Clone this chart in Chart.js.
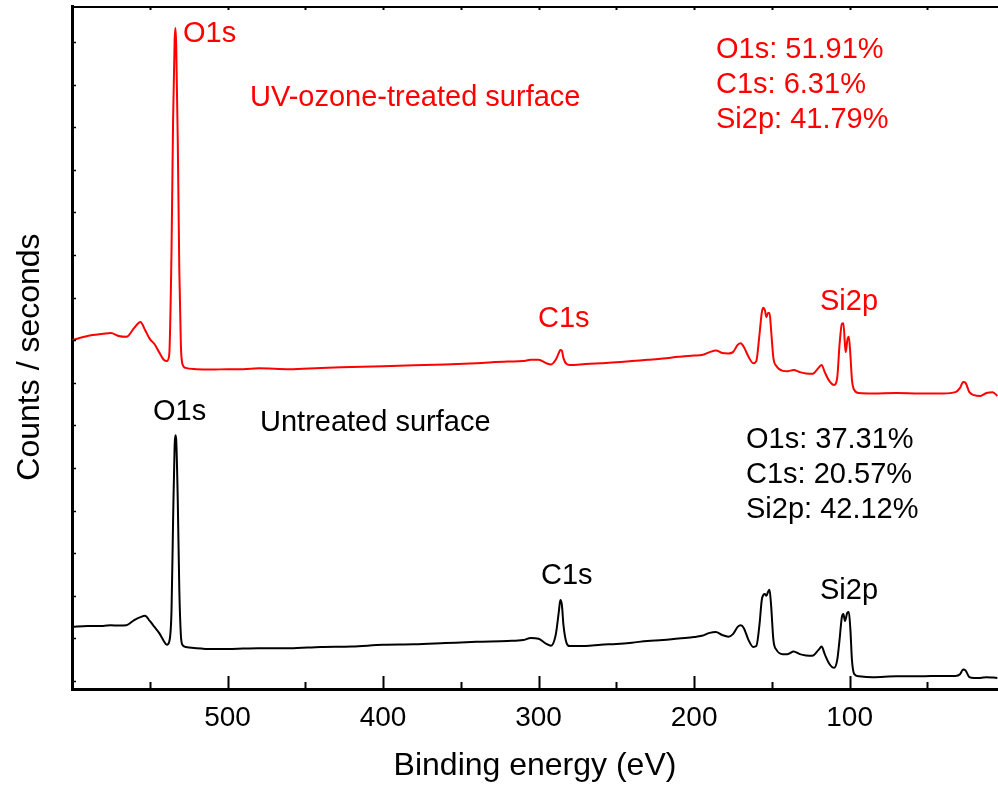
<!DOCTYPE html>
<html>
<head>
<meta charset="utf-8">
<title>XPS survey spectra</title>
<script src="https://cdn.jsdelivr.net/npm/chart.js@4.4.1/dist/chart.umd.min.js"></script>
<style>
  html, body { margin: 0; padding: 0; background: #fff; }
  canvas { display: block; }
</style>
</head>
<body>
<canvas id="xps" width="998" height="787"></canvas>
<script>
// Binding energy grid (eV), shared by both spectra, from high to low energy
const bindingEnergy = [
  600, 590, 580, 575, 570, 565, 560, 556, 553, 550,
  547, 544, 541, 539, 537.5, 536, 535, 534, 533.5, 533,
  532, 531, 530, 529, 527, 520, 510, 500, 490, 480,
  460, 440, 420, 400, 380, 360, 340, 320, 310, 305,
  300, 295, 292, 289, 287, 286, 285, 284, 282, 280,
  270, 260, 250, 240, 230, 220, 210, 200, 195, 190,
  186, 182, 178, 175, 172, 170, 168, 165, 162, 160,
  158, 156.5, 155.5, 154.5, 153.5, 152.5, 151.5, 150.5, 149, 147,
  143, 140, 136, 132, 128, 124, 120, 118, 116, 113,
  110, 108, 106.5, 105, 104, 103, 102.5, 101.5, 100.5, 99.5,
  98.5, 97, 94, 85, 70, 55, 40, 32, 29, 27,
  25.5, 23, 20, 16, 12, 8, 5
];

// Untreated surface (arbitrary count units)
const untreatedCounts = [
  1.27, 1.29, 1.29, 1.31, 1.30, 1.31, 1.43, 1.50, 1.53, 1.41,
  1.27, 1.13, 0.94, 0.85, 0.92, 1.67, 3.78, 5.54, 5.77, 5.66,
  4.25, 2.14, 1.08, 0.85, 0.80, 0.77, 0.75, 0.75, 0.76, 0.77,
  0.77, 0.80, 0.81, 0.85, 0.86, 0.89, 0.92, 0.94, 0.96, 1.01,
  0.99, 0.87, 0.83, 1.08, 1.62, 1.90, 1.78, 1.31, 0.89, 0.82,
  0.82, 0.85, 0.87, 0.90, 0.94, 0.96, 1.00, 1.03, 1.06, 1.13,
  1.15, 1.08, 1.04, 1.10, 1.27, 1.31, 1.24, 0.96, 0.80, 0.82,
  1.31, 1.90, 2.02, 2.04, 2.00, 2.09, 2.14, 1.78, 0.96, 0.73,
  0.63, 0.63, 0.69, 0.63, 0.60, 0.59, 0.73, 0.81, 0.63, 0.40,
  0.31, 0.49, 0.96, 1.50, 1.57, 1.41, 1.46, 1.60, 1.62, 1.20,
  0.49, 0.16, 0.11, 0.09, 0.11, 0.11, 0.12, 0.12, 0.16, 0.27,
  0.25, 0.09, 0.07, 0.07, 0.09, 0.08, 0.07
];

// UV-ozone-treated surface (same units, stacked above the untreated trace)
const uvOzoneCounts = [
  8.00, 8.10, 8.15, 8.17, 8.10, 8.08, 8.29, 8.43, 8.24, 8.03,
  7.91, 7.72, 7.54, 7.51, 7.65, 10.12, 13.17, 15.05, 15.33, 14.93,
  12.70, 9.65, 7.89, 7.44, 7.35, 7.32, 7.31, 7.32, 7.32, 7.34,
  7.32, 7.35, 7.37, 7.39, 7.41, 7.43, 7.46, 7.50, 7.51, 7.54,
  7.54, 7.46, 7.43, 7.54, 7.70, 7.77, 7.75, 7.58, 7.44, 7.42,
  7.44, 7.46, 7.48, 7.51, 7.54, 7.57, 7.61, 7.64, 7.65, 7.72,
  7.76, 7.70, 7.69, 7.72, 7.89, 7.93, 7.84, 7.61, 7.46, 7.51,
  8.12, 8.64, 8.76, 8.71, 8.54, 8.64, 8.64, 8.24, 7.58, 7.39,
  7.28, 7.27, 7.30, 7.25, 7.22, 7.21, 7.35, 7.42, 7.25, 7.04,
  6.95, 7.11, 7.89, 8.38, 8.40, 7.89, 7.72, 8.00, 8.08, 7.65,
  7.07, 6.83, 6.76, 6.75, 6.76, 6.75, 6.75, 6.78, 6.88, 7.02,
  7.00, 6.78, 6.71, 6.69, 6.76, 6.78, 6.69
];

// Axis ticks
const energyTicks = [500, 400, 300, 200, 100];
const minorEnergyTicks = [550, 450, 350, 250, 150, 50];
const countTicks = [0, 1, 2, 3, 4, 5, 6, 7, 8, 9, 10, 11, 12, 13, 14, 15];

// Surface composition (at.%)
const elements = ['O1s', 'C1s', 'Si2p'];
const treatedComposition = [51.91, 6.31, 41.79];
const untreatedComposition = [37.31, 20.57, 42.12];

const FONT = "'Liberation Sans', Arial, Helvetica, sans-serif";
const RED = '#ff0000';
const BLACK = '#000000';

// Text annotations: peak names, sample names and composition blocks
const annotations = [
  { text: 'O1s', x: 183, y: 42, color: RED },
  { text: 'UV-ozone-treated surface', x: 250, y: 106, color: RED },
  { text: 'C1s', x: 538, y: 327, color: RED },
  { text: 'Si2p', x: 820, y: 310, color: RED },
  { text: 'O1s', x: 153, y: 420, color: BLACK },
  { text: 'Untreated surface', x: 260, y: 431, color: BLACK },
  { text: 'C1s', x: 541, y: 584, color: BLACK },
  { text: 'Si2p', x: 820, y: 599, color: BLACK }
];
const compositionBlocks = [
  { values: treatedComposition, x: 716, y: 58, color: RED },
  { values: untreatedComposition, x: 746, y: 448, color: BLACK }
];

const toPoints = (ys) => bindingEnergy.map((e, i) => ({ x: e, y: ys[i] }));

const frameAndLabels = {
  id: 'frameAndLabels',
  afterDatasetsDraw(chart) {
    const { ctx, chartArea: a, scales: { x, y } } = chart;
    ctx.save();
    ctx.strokeStyle = BLACK;

    // top frame line
    ctx.lineWidth = 2;
    ctx.beginPath();
    ctx.moveTo(a.left, a.top + 1);
    ctx.lineTo(a.right, a.top + 1);
    ctx.stroke();

    // inward ticks on the energy axis (bottom) and small ones on top
    const tick = (v, len, w) => {
      const px = Math.round(x.getPixelForValue(v)) + 0.5;
      ctx.lineWidth = w;
      ctx.beginPath();
      ctx.moveTo(px, a.bottom);
      ctx.lineTo(px, a.bottom - len);
      ctx.moveTo(px, a.top);
      ctx.lineTo(px, a.top + 4);
      ctx.stroke();
    };
    energyTicks.forEach(v => tick(v, 13, 2));
    minorEnergyTicks.forEach(v => tick(v, 7, 2));

    // small inward ticks on the counts axis
    ctx.lineWidth = 1.5;
    countTicks.forEach(v => {
      const py = Math.round(y.getPixelForValue(v)) + 0.5;
      ctx.beginPath();
      ctx.moveTo(a.left, py);
      ctx.lineTo(a.left + 4, py);
      ctx.stroke();
    });

    // text
    ctx.font = `29px ${FONT}`;
    ctx.textAlign = 'left';
    ctx.textBaseline = 'alphabetic';
    annotations.forEach(t => {
      ctx.fillStyle = t.color;
      ctx.fillText(t.text, t.x, t.y);
    });
    compositionBlocks.forEach(b => {
      ctx.fillStyle = b.color;
      elements.forEach((el, i) => {
        ctx.fillText(`${el}: ${b.values[i].toFixed(2)}%`, b.x, b.y + i * 35);
      });
    });

    // vertical axis title
    ctx.fillStyle = BLACK;
    ctx.font = `32px ${FONT}`;
    ctx.textAlign = 'center';
    ctx.textBaseline = 'middle';
    ctx.translate(30, 357);
    ctx.rotate(-Math.PI / 2);
    ctx.fillText('Counts / seconds', 0, 0);
    ctx.restore();
  }
};

new Chart(document.getElementById('xps'), {
  type: 'line',
  data: {
    datasets: [
      {
        label: 'UV-ozone-treated surface',
        data: toPoints(uvOzoneCounts),
        borderColor: RED,
        borderWidth: 2
      },
      {
        label: 'Untreated surface',
        data: toPoints(untreatedCounts),
        borderColor: BLACK,
        borderWidth: 2
      }
    ]
  },
  options: {
    responsive: false,
    animation: false,
    devicePixelRatio: 1,
    parsing: false,
    layout: { padding: { top: 6, left: 0, right: 0, bottom: 0 } },
    elements: {
      point: { radius: 0 },
      line: { cubicInterpolationMode: 'monotone', fill: false }
    },
    plugins: {
      legend: { display: false },
      tooltip: { enabled: false }
    },
    scales: {
      x: {
        type: 'linear',
        reverse: true,
        min: 4.6,
        max: 600,
        afterBuildTicks: s => { s.ticks = energyTicks.map(v => ({ value: v })); },
        afterFit: s => { s.height = 98; },
        grid: { display: false, drawTicks: false },
        border: { display: true, color: BLACK, width: 3 },
        ticks: {
          color: BLACK,
          font: { family: FONT, size: 28 },
          padding: 12,
          maxRotation: 0,
          autoSkip: false
        },
        title: {
          display: true,
          text: 'Binding energy (eV)',
          color: BLACK,
          font: { family: FONT, size: 32 },
          padding: { top: 0, bottom: 2 }
        }
      },
      y: {
        type: 'linear',
        min: -0.188,
        max: 15.845,
        afterFit: s => { s.width = 72; },
        ticks: { display: false },
        grid: { display: false, drawTicks: false },
        border: { display: true, color: BLACK, width: 3 }
      }
    }
  },
  plugins: [frameAndLabels]
});
</script>
</body>
</html>
